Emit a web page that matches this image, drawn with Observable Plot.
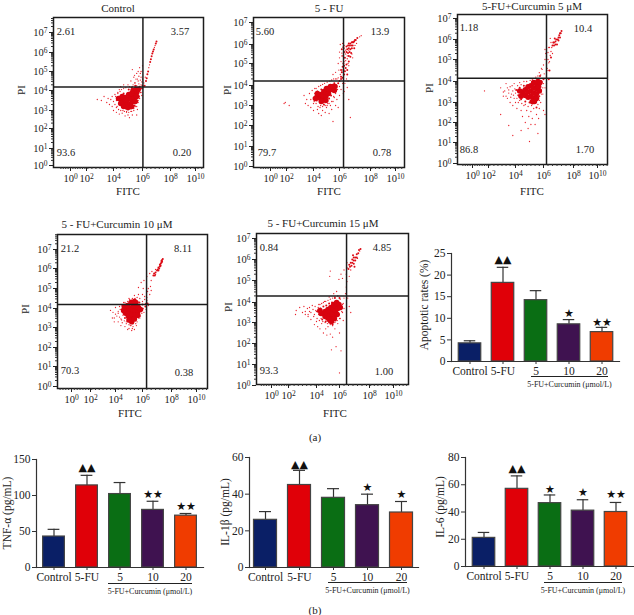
<!DOCTYPE html>
<html><head><meta charset="utf-8">
<script src="https://cdn.jsdelivr.net/npm/d3@7"></script>
<script src="https://cdn.jsdelivr.net/npm/@observablehq/plot@0.6"></script>
<style>
html,body{margin:0;padding:0;background:#fff}
#root{position:relative;width:634px;height:615px;overflow:hidden;font-family:"Liberation Serif",serif;color:#222}
#root svg{position:absolute;overflow:visible;background:none}
#root .t{position:absolute;white-space:nowrap;transform:translate(-50%,-50%);line-height:1.1}
#root .l{position:absolute;background:#222;height:1px}
</style></head><body><div id="root"></div>
<script>
// Flow cytometry events: [log10 FITC, log10 PI]
const controlCore=[[4.55,3.5],[4.75,3.4],[4.95,3.3],[5.15,3.3],[5.3,3.45],[4.8,3.65],[5.0,3.55],[5.2,3.6],[5.4,3.65],[5.05,3.8],[5.25,3.85],[5.45,3.85],[5.6,3.9],[5.35,4.0],[5.55,4.05],[5.7,4.05],[4.35,3.6],[4.5,3.35],[4.7,3.2],[5.0,3.15],[5.25,3.2],[5.5,3.45],[5.6,3.7],[4.6,3.7]];
const controlMid=[[4.3,3.55],[4.4,3.35],[4.5,3.7],[4.6,3.2],[4.7,3.85],[4.85,3.1],[5.0,3.05],[5.05,4.05],[5.2,3.1],[5.25,4.15],[5.45,3.25],[5.5,4.25],[5.6,3.5],[5.75,3.7],[5.8,4.2],[5.9,4.1],[6.0,4.25],[6.55,5.5],[6.6,5.65],[6.65,5.8],[6.7,5.95],[6.75,6.05],[6.8,6.15],[6.95,6.45],[7.0,6.55],[6.15,4.25],[6.25,4.5],[6.3,4.65],[6.35,4.85],[6.4,5.0]];
const controlSparse=[[3.1,3.5],[2.8,3.55],[3.3,3.7],[3.5,3.4],[3.6,3.6],[3.7,3.3],[3.8,3.55],[3.9,3.2],[3.9,3.7],[4.0,3.0],[4.0,3.45],[4.1,3.8],[4.2,2.9],[4.2,3.15],[4.3,3.9],[4.4,2.8],[4.4,4.05],[4.5,4.2],[4.6,2.85],[4.7,4.3],[4.8,2.7],[4.9,2.9],[5.0,4.3],[5.1,2.6],[5.2,2.95],[5.2,4.5],[5.3,4.2],[5.4,3.0],[5.4,4.7],[5.5,3.2],[5.5,4.4],[5.6,2.75],[5.6,4.9],[5.7,3.4],[5.7,4.5],[5.8,3.6],[5.8,5.2],[5.9,3.9],[5.9,4.7],[6.0,4.1],[6.0,5.3],[5.7,5.0],[5.3,5.1],[6.45,5.2],[6.5,5.35],[6.85,6.25],[6.9,6.35],[6.1,4.4],[6.2,4.7],[5.95,4.45],[5.85,4.9],[5.65,4.6],[4.1,3.3],[4.15,3.7],[4.2,3.5],[4.25,3.2],[4.3,3.85],[4.35,3.05],[4.45,3.95],[4.5,3.0],[4.55,4.05],[4.65,3.0],[4.7,4.1],[4.85,4.15],[4.9,2.95],[5.05,2.9],[5.1,4.2],[5.25,2.95],[5.35,4.3],[5.4,3.1],[5.45,4.4],[5.6,3.2],[5.6,4.25],[5.7,3.5],[5.75,4.35],[5.85,3.9],[5.9,4.3],[5.95,3.75],[5.65,3.05],[5.3,2.75],[5.0,2.75],[4.75,2.95],[5.55,4.6],[5.75,4.75],[5.45,4.8],[5.9,5.0],[6.0,4.6],[5.85,4.55]];
const fuCore=[[4.35,3.45],[4.55,3.35],[4.75,3.3],[4.55,3.55],[4.75,3.5],[4.95,3.45],[4.8,3.7],[5.0,3.65],[5.15,3.6],[5.0,3.85],[5.2,3.8],[5.35,3.8],[5.3,3.95],[5.5,3.95],[4.15,3.35],[4.3,3.6],[5.6,3.75],[5.65,3.95],[4.6,3.2],[4.95,3.25]];
const fuMid=[[4.15,3.5],[4.25,3.25],[4.5,3.15],[4.3,3.7],[4.6,3.8],[4.8,3.05],[5.0,3.2],[5.2,3.35],[5.35,3.5],[5.55,3.7],[5.6,4.1],[5.75,4.0],[5.9,4.1],[6.0,4.2],[6.1,4.3],[6.1,4.7],[6.25,5.0],[6.5,4.5],[6.6,5.1],[6.35,5.3],[6.3,5.6],[6.45,5.9],[6.6,6.05],[6.85,6.1],[6.95,6.15],[7.05,6.2],[7.15,6.3],[6.95,5.8],[6.7,5.35],[6.15,5.75],[6.25,5.85],[6.1,4.4],[6.2,4.35],[6.3,4.5],[6.15,4.6],[6.25,4.7],[6.35,4.65],[6.4,4.8],[6.3,4.9],[6.45,4.95],[6.2,4.85],[6.5,4.7],[6.45,5.6],[6.55,5.55],[6.65,5.6],[6.5,5.75],[6.6,5.8],[6.7,5.75],[6.8,5.8],[6.55,5.95],[6.65,5.95],[6.75,5.95],[6.85,5.95],[6.7,6.05],[6.8,6.1],[6.9,6.1],[7.0,6.2],[6.6,5.4],[6.75,5.55]];
const fuSparse=[[1.7,3.1],[1.85,3.15],[2.2,3.0],[3.3,3.5],[3.4,3.1],[3.5,3.3],[3.6,3.0],[3.7,3.6],[3.8,2.9],[3.8,3.3],[3.9,3.75],[4.0,3.1],[4.0,2.75],[4.1,3.85],[4.3,2.8],[4.4,2.6],[4.5,2.9],[4.6,2.5],[4.7,2.75],[4.9,2.65],[5.0,2.9],[5.1,3.1],[5.2,2.6],[5.3,3.0],[5.4,2.8],[5.5,3.2],[5.5,2.2],[5.6,3.4],[5.7,3.0],[5.8,3.3],[5.9,2.9],[6.0,3.5],[6.1,3.8],[6.3,3.7],[6.5,3.9],[6.6,3.3],[6.7,2.4],[5.5,4.5],[5.7,4.6],[5.9,5.0],[6.0,5.3],[6.0,5.6],[6.1,5.1],[6.2,5.4],[6.4,5.5],[6.5,5.25],[6.6,5.7],[6.8,5.5],[5.8,4.3],[7.0,5.95],[7.1,6.05],[7.3,6.35],[7.4,6.4],[6.05,6.0],[6.2,6.05],[4.0,3.4],[4.1,3.6],[4.05,3.2],[4.2,3.1],[4.2,3.85],[4.35,2.95],[4.4,3.95],[4.55,3.0],[4.55,4.0],[4.7,2.95],[4.7,4.05],[4.9,3.0],[4.85,4.1],[5.05,3.0],[5.05,4.15],[5.2,3.1],[5.25,4.2],[5.4,3.2],[5.4,4.25],[5.55,3.45],[5.55,4.3],[5.7,3.6],[5.7,4.3],[5.85,3.8],[5.9,4.35],[6.0,3.95],[6.05,4.5],[5.95,4.7],[6.2,4.1],[6.35,4.1],[6.3,5.1],[6.15,5.4],[6.4,5.15],[6.55,5.0],[6.15,5.55],[6.3,5.8],[6.4,5.7],[6.3,5.95],[6.5,5.4],[6.6,4.9],[6.45,4.3],[6.55,4.2],[6.25,3.6],[6.85,5.3]];
const c5Core=[[4.5,3.5],[4.7,3.35],[4.9,3.25],[4.7,3.6],[4.9,3.5],[5.1,3.3],[5.3,3.2],[5.1,3.55],[5.3,3.45],[5.5,3.4],[4.9,3.75],[5.1,3.8],[5.3,3.7],[5.5,3.65],[5.3,3.95],[5.5,3.9],[5.65,3.75],[5.6,4.0],[4.3,3.55],[4.4,3.3],[5.7,3.55],[5.5,3.2],[5.2,3.05],[5.35,3.05],[5.75,3.95]];
const c5Mid=[[4.05,3.6],[4.2,3.35],[4.3,3.7],[4.4,3.15],[4.6,3.8],[4.7,3.05],[5.0,3.0],[5.2,2.95],[5.4,3.0],[5.5,2.75],[5.7,3.3],[5.8,3.6],[5.85,4.0],[5.75,4.25],[6.0,4.1],[6.6,5.7],[7.1,6.3],[7.2,6.4],[6.9,5.75],[6.75,6.05],[6.4,4.5],[6.5,5.1],[6.35,4.1],[6.7,5.7],[6.8,5.75],[6.7,5.85],[6.8,5.9],[6.85,6.0],[6.95,6.0],[7.0,6.1],[7.05,6.2],[7.1,6.1],[7.15,6.3],[6.65,5.85],[7.0,5.95]];
const c5Sparse=[[1.5,3.55],[2.9,2.4],[2.9,3.7],[3.1,3.3],[3.2,3.55],[3.3,3.9],[3.4,3.2],[3.5,3.6],[3.6,3.0],[3.7,3.4],[3.75,3.8],[3.8,2.85],[3.9,3.2],[3.9,3.9],[4.0,3.0],[4.1,2.7],[4.2,3.0],[4.3,3.95],[4.4,2.6],[4.5,2.3],[4.6,2.85],[4.7,2.0],[4.8,2.6],[4.9,1.7],[4.95,2.3],[5.0,1.05],[5.1,2.55],[5.1,1.9],[5.2,2.2],[5.3,2.7],[5.4,1.9],[5.5,2.4],[5.6,1.45],[5.65,2.2],[5.7,2.7],[5.8,3.0],[5.95,3.4],[6.0,2.6],[6.1,3.7],[6.2,3.9],[6.1,2.4],[3.5,1.85],[3.8,1.35],[4.4,1.6],[5.7,4.4],[5.85,4.6],[6.0,4.75],[6.1,5.0],[6.15,5.3],[6.1,5.5],[6.3,5.0],[6.3,5.35],[6.4,5.6],[6.5,5.4],[6.25,4.6],[6.35,4.85],[6.6,5.3],[6.5,5.85],[6.45,6.05],[3.1,3.5],[3.3,3.3],[3.4,3.7],[3.5,3.45],[3.6,3.75],[3.65,3.25],[3.8,3.55],[3.85,3.35],[3.95,3.65],[4.0,3.45],[4.1,3.2],[4.15,3.8],[4.3,3.1],[4.4,3.85],[4.45,2.95],[4.6,4.0],[4.7,2.9],[4.8,4.0],[4.9,2.8],[5.05,4.05],[5.15,2.85],[5.2,4.1],[5.3,2.95],[5.45,4.2],[5.5,3.05],[5.6,4.25],[5.7,3.1],[5.8,4.3],[5.85,3.4],[5.95,3.7],[6.0,3.9],[5.6,2.9],[6.05,4.35],[6.2,4.2],[6.3,4.5],[6.2,4.8],[6.4,4.9],[6.45,5.2],[6.55,5.6],[6.2,5.15],[6.35,5.6],[5.9,4.55]];
const c10Core=[[4.75,3.75],[4.95,3.6],[5.15,3.5],[4.85,3.9],[5.05,3.8],[5.25,3.7],[5.45,3.65],[5.05,4.0],[5.25,3.95],[5.45,3.9],[5.65,3.85],[5.3,4.15],[5.5,4.1],[5.7,4.05],[5.5,4.3],[4.6,3.9],[4.65,4.1],[4.9,4.15],[5.15,4.3],[5.4,4.35],[5.65,3.65],[5.85,3.95],[5.2,3.3],[5.0,3.4],[5.4,3.45]];
const c10Mid=[[4.5,3.85],[4.6,4.05],[4.7,3.5],[4.8,4.2],[5.0,4.25],[5.0,3.35],[5.2,3.3],[5.2,4.4],[5.45,3.45],[5.4,4.45],[5.7,3.7],[5.75,4.3],[5.9,4.0],[6.0,4.2],[6.2,4.1],[6.35,4.25],[6.75,5.65],[6.85,5.65],[6.8,5.75],[6.9,5.8],[7.0,5.9],[7.05,5.95],[7.1,6.05],[7.15,6.0],[7.2,6.1],[7.2,6.2],[7.25,6.25],[7.3,6.3],[7.3,6.4],[7.35,6.45],[7.1,5.9],[7.25,6.15],[7.35,6.35],[7.4,6.5]];
const c10Sparse=[[3.6,3.9],[3.8,3.8],[3.9,3.5],[4.0,4.05],[4.1,3.6],[4.2,3.3],[4.2,3.85],[4.3,4.1],[4.4,3.45],[4.4,3.1],[4.5,3.25],[4.6,4.3],[4.7,3.05],[4.8,3.3],[4.9,2.9],[5.0,4.5],[5.1,3.1],[5.2,2.85],[5.3,3.05],[5.4,4.65],[5.5,3.2],[5.6,4.55],[5.6,3.3],[5.7,5.05],[5.7,4.7],[5.8,3.5],[5.8,4.5],[5.9,5.3],[5.95,3.75],[6.0,4.7],[6.05,5.0],[6.1,5.4],[6.15,4.45],[6.3,4.55],[6.35,4.85],[6.4,5.0],[6.5,4.7],[6.55,5.1],[6.5,5.75],[6.6,5.4],[6.65,5.85],[6.3,5.6],[6.9,5.7],[6.9,5.95],[6.6,4.9],[4.2,3.75],[4.3,3.55],[4.35,3.95],[4.45,3.4],[4.5,4.15],[4.55,3.65],[4.65,3.35],[4.7,4.3],[4.8,3.2],[4.9,4.35],[5.0,3.15],[5.05,4.45],[5.15,3.1],[5.25,4.5],[5.3,3.2],[5.45,4.5],[5.5,3.35],[5.6,4.35],[5.7,3.5],[5.8,4.3],[5.85,3.6],[6.0,4.35],[5.4,2.9],[5.25,2.95],[5.0,2.95],[5.55,3.1],[6.05,4.0],[6.1,3.8],[6.2,4.25],[6.3,4.4],[6.15,4.6],[6.4,4.15],[6.25,3.95],[3.75,3.5],[3.9,3.3],[4.0,3.7]];
const c15Core=[[4.55,3.45],[4.75,3.3],[4.95,3.25],[4.75,3.55],[4.95,3.45],[5.15,3.35],[5.35,3.2],[5.0,3.65],[5.2,3.55],[5.4,3.45],[5.6,3.4],[5.25,3.75],[5.45,3.7],[5.65,3.6],[5.5,3.9],[5.7,3.8],[5.75,4.0],[4.3,3.6],[4.4,3.45],[5.85,3.7],[5.95,3.9],[6.05,3.75],[5.55,3.2],[5.8,3.4],[5.1,3.15],[5.3,3.05]];
const c15Mid=[[4.1,3.55],[4.3,3.4],[4.35,3.7],[4.5,3.15],[4.6,3.8],[4.8,3.05],[4.85,3.85],[5.1,3.0],[5.1,3.95],[5.4,2.9],[5.35,4.0],[5.65,3.1],[5.6,4.2],[5.85,3.5],[5.9,3.9],[6.0,4.2],[6.6,5.55],[6.7,5.65],[6.75,5.85],[7.05,5.95],[7.15,6.25],[7.0,5.65],[6.9,6.2],[6.8,5.7],[6.85,5.85],[6.95,5.8],[6.85,6.0],[6.95,5.95],[6.95,6.1],[7.05,6.1],[7.15,6.1],[7.25,6.3],[7.3,6.45],[6.65,5.75],[7.4,6.5]];
const c15Sparse=[[2.5,3.4],[2.55,3.6],[2.8,3.75],[3.0,3.5],[3.1,3.8],[3.2,3.4],[3.35,3.7],[3.4,3.3],[3.5,3.55],[3.6,3.15],[3.7,3.85],[3.8,3.3],[3.85,2.9],[3.95,3.6],[4.0,3.05],[4.1,2.8],[4.2,3.9],[4.3,2.7],[4.45,2.95],[4.6,2.5],[4.7,4.05],[4.8,2.7],[4.9,2.4],[5.0,2.8],[5.1,4.25],[5.2,2.45],[5.3,1.7],[5.3,2.95],[5.4,2.3],[5.5,4.4],[5.6,2.7],[5.7,1.85],[5.75,4.5],[5.85,2.95],[6.0,2.5],[6.1,1.65],[6.05,3.2],[6.2,3.5],[6.25,3.95],[6.0,0.6],[5.15,5.2],[5.2,5.45],[5.95,5.05],[6.1,5.3],[6.2,5.1],[6.3,5.5],[6.45,5.3],[6.45,4.7],[6.5,4.95],[6.55,4.2],[6.55,5.6],[6.4,4.4],[6.65,3.8],[6.75,5.5],[6.5,5.85],[7.2,6.05],[7.35,6.4],[6.75,3.5],[6.65,5.2],[3.2,3.55],[3.4,3.4],[3.5,3.75],[3.6,3.5],[3.75,3.65],[3.85,3.4],[3.9,3.8],[4.0,3.55],[4.05,3.2],[4.15,3.75],[4.2,3.4],[4.25,3.1],[4.3,3.9],[4.4,3.2],[4.45,3.95],[4.55,3.05],[4.6,4.0],[4.75,3.0],[4.8,4.05],[4.95,2.95],[5.0,4.1],[5.2,2.9],[5.2,4.15],[5.4,2.85],[5.4,4.2],[5.6,3.0],[5.6,4.25],[5.8,3.1],[5.85,4.3],[6.0,3.2],[6.05,4.15],[6.15,3.55],[6.2,3.9],[6.3,3.7],[6.3,4.2],[6.25,3.1]];

const xTicks=[0,2,4,6,8,10];
const yTicks=[0,1,2,3,4,5,6,7];
const pow=d=>`10^${d}`;

// bar data
const groups=["Control","5-FU","5","10","20"];
const colors=["#0a1f66","#e00008","#0a6e14","#3f1250","#f03c00"];
const apoValues=[4.2,18.2,14.2,8.6,6.8], apoTops=[4.8,21.8,16.4,9.7,7.9];
const apoMarks=[["▲▲",23.6,"5-FU"],["★",11.1,"10"],["★★",9.0,"20"]];
const tnfValues=[43,114,102,80,72], tnfTops=[53,128,118,92,75];
const tnfMarks=[["▲▲",139,"5-FU"],["★★",101,"10"],["★★",85,"20"]];
const ilbValues=[26,45,38,34,30], ilbTops=[30.5,53,43,40,36];
const ilbMarks=[["▲▲",56,"5-FU"],["★",43.6,"10"],["★",39.8,"20"]];
const il6Values=[21,57,46.5,41,40], il6Tops=[25,66.5,52.5,49,47];
const il6Marks=[["▲▲",72,"5-FU"],["★",56.5,"5"],["★",54.3,"10"],["★★",52.8,"20"]];

const root=document.getElementById("root");
function txt(s,x,y,size=11,rot=0){
  const e=document.createElement("div");e.className="t";e.textContent=s;
  e.style.left=x+"px";e.style.top=y+"px";e.style.fontSize=size+"px";
  if(rot)e.style.transform=`translate(-50%,-50%) rotate(${rot}deg)`;
  root.appendChild(e);
}
function place(svg,x,y){svg.style.left=x+"px";svg.style.top=y+"px";root.appendChild(svg);}
function superscripts(svg){
  svg.querySelectorAll("text").forEach(t=>{
    const m=/^10\^(\d+)$/.exec(t.textContent);
    if(!m)return;
    t.textContent="10";
    const s=document.createElementNS("http://www.w3.org/2000/svg","tspan");
    s.textContent=m[1];s.setAttribute("dy","-0.42em");s.setAttribute("font-size","7.5");
    t.appendChild(s);
  });
}

const minorXAll=d3.range(-1.2,11.6,0.3);
const minorYAll=yTicks.flatMap(k=>[.3,.48,.6,.7,.78,.85,.9,.95].map(f=>k+f));

function flow(f){
  const ml=32,mt=5,mr=5,mb=25;
  const ox=f.left-ml,oy=f.top-mt;
  const px=d3.scaleLinear(xTicks,f.xpx), py=d3.scaleLinear(yTicks,f.ypx);
  const minorX=minorXAll.filter(d=>px(d)>=f.left&&px(d)<=f.right);
  const minorY=minorYAll.filter(d=>py(d)>=f.top&&py(d)<=f.bottom);
  const svg=Plot.plot({
    width:f.right-f.left+ml+mr,height:f.bottom-f.top+mt+mb,
    marginLeft:ml,marginTop:mt,marginRight:mr,marginBottom:mb,
    style:{fontFamily:"Liberation Serif",fontSize:"10.5px",color:"#222",background:"none"},
    x:{type:"linear",domain:xTicks,range:f.xpx.map(p=>p-ox)},
    y:{type:"linear",domain:yTicks,range:f.ypx.map(p=>p-oy)},
    marks:[
      Plot.dot(f.sparse,{x:d=>d[0],y:d=>d[1],r:0.65,fill:"#e8202a"}),
      Plot.dot(f.mid,{x:d=>d[0],y:d=>d[1],r:1.0,fill:"#dc0a14"}),
      Plot.dot(f.core,{x:d=>d[0],y:d=>d[1],r:2.8,fill:"#d80410"}),
      Plot.ruleX([f.qx],{stroke:"#1c1c1c",strokeWidth:1.5}),
      Plot.ruleY([f.qy],{stroke:"#1c1c1c",strokeWidth:1.5}),
      Plot.frame({stroke:"#1c1c1c",strokeWidth:1.5}),
      Plot.axisX({ticks:minorX,tickSize:2,tickFormat:()=>"",label:null,stroke:"#333"}),
      Plot.axisY({ticks:minorY,tickSize:2,tickFormat:()=>"",label:null,stroke:"#333"}),
      Plot.axisX({ticks:xTicks,tickSize:4,tickPadding:3,tickFormat:pow,label:null,stroke:"#222"}),
      Plot.axisY({ticks:yTicks,tickSize:4,tickPadding:2,tickFormat:pow,label:null,stroke:"#222"})
    ]
  });
  superscripts(svg);
  place(svg,ox,oy);
  txt(f.title,f.tx,f.ty);
  txt("FITC",f.fx,f.fy);
  txt("PI",f.px,f.py,11,-90);
  f.q.forEach(([s,x,y])=>txt(s,x,y,10.5));
}
function bars(b){
  const ml=32,mt=10,mb=24;
  const ox=b.axisX-ml,oy=b.yTop-mt;
  const w=b.axisEnd-ox, step=(b.c4-b.c0)/4;
  const rows=groups.map((g,i)=>({g,v:b.values[i],t:b.tops[i],c:colors[i]}));
  const insetB=(step-b.bw)/2, insetC=(step-12)/2;
  const svg=Plot.plot({
    width:w,height:b.y0-b.yTop+mt+mb,
    marginLeft:ml,marginTop:mt,marginRight:0,marginBottom:mb,
    style:{fontFamily:"Liberation Serif",fontSize:"11.5px",color:"#222",background:"none"},
    x:{type:"band",domain:groups,range:[b.c0-step/2-ox,b.c4+step/2-ox],padding:0},
    y:{domain:[0,b.max]},
    color:{type:"identity"},
    marks:[
      Plot.ruleX(rows,{x:"g",y1:"v",y2:"t",stroke:"#333",strokeWidth:1.2}),
      Plot.tickY(rows,{x:"g",y:"t",stroke:"#333",strokeWidth:1.2,insetLeft:insetC,insetRight:insetC}),
      Plot.barY(rows,{x:"g",y:"v",fill:"c",stroke:"#444",strokeWidth:1.2,insetLeft:insetB,insetRight:insetB}),
      Plot.text(b.marks,{x:d=>d[2],y:d=>d[1],text:d=>d[0],fontSize:11,fontFamily:"DejaVu Sans",fill:"#111",lineAnchor:"middle"}),
      Plot.frame({anchor:"left",stroke:"#333",strokeWidth:1.2}),
      Plot.frame({anchor:"bottom",stroke:"#333",strokeWidth:1.2}),
      Plot.axisX({tickSize:3,tickPadding:2,label:null,stroke:"#333"}),
      Plot.axisY({ticks:b.ticks,tickSize:4,tickPadding:2,label:null,stroke:"#333"})
    ]
  });
  place(svg,ox,oy);
  txt(b.label,b.lx,b.ly,11.5,-90);
  const l=document.createElement("div");l.className="l";
  l.style.left=b.u0+"px";l.style.width=(b.u1-b.u0)+"px";l.style.top=b.uy+"px";root.appendChild(l);
  txt("5-FU+Curcumin (μmol/L)",(b.u0+b.u1)/2+(b.cdx||0),b.uy+8.5,8);
}

flow({left:53,right:203,top:17,bottom:167,xpx:[70,86,113,142,170,195],ypx:[165,148,128,110,90,71,52,32],qx:6.03,qy:4.18,
  core:controlCore,mid:controlMid,sparse:controlSparse,title:"Control",tx:118,ty:8,fx:128,fy:191,px:21,py:90,
  q:[["2.61",66,32],["3.57",180,32],["93.6",66,153],["0.20",182,153]]});
flow({left:253,right:404,top:17,bottom:167,xpx:[270,286,313,339,370,395],ypx:[166,146,125,105,85,63,44,22],qx:6.26,qy:4.2,
  core:fuCore,mid:fuMid,sparse:fuSparse,title:"5 - FU",tx:329,ty:8,fx:329,fy:191,px:227,py:90,
  q:[["5.60",265,32],["13.9",380,32],["79.7",267,153],["0.78",382,153]]});
flow({left:457,right:607,top:14,bottom:164,xpx:[472,488,515,543,573,597],ypx:[163,142,122,102,81,59,39,18],qx:6.2,qy:4.15,
  core:c5Core,mid:c5Mid,sparse:c5Sparse,title:"5-FU+Curcumin 5 μM",tx:532,ty:6,fx:532,fy:191,px:429,py:88,
  q:[["1.18",469,28],["10.4",583,29],["86.8",469,150],["1.70",585,150]]});
flow({left:57,right:207,top:234,bottom:388,xpx:[71,90,115,142,171,196],ypx:[386,366,347,327,308,288,268,249],qx:6.28,qy:4.2,
  core:c10Core,mid:c10Mid,sparse:c10Sparse,title:"5 - FU+Curcumin 10 μM",tx:117,ty:224,fx:130,fy:413,px:25,py:309,
  q:[["21.2",70,249],["8.11",183,249],["70.3",70,371],["0.38",184,373]]});
flow({left:256,right:408,top:233,bottom:384,xpx:[271,288,316,339,369,393],ypx:[385,364,343,322,302,280,259,238],qx:6.47,qy:4.29,
  core:c15Core,mid:c15Mid,sparse:c15Sparse,title:"5 - FU+Curcumin 15 μM",tx:323,ty:223,fx:335,fy:413,px:228,py:307,
  q:[["0.84",269,248],["4.85",382,248],["93.3",269,371],["1.00",384,372]]});

bars({axisX:451,axisEnd:619,y0:361,yTop:253,c0:468,c4:602,bw:23,max:25,ticks:[0,5,10,15,20,25],values:apoValues,tops:apoTops,marks:apoMarks,
  label:"Apoptotic rates (%)",lx:424,ly:305,u0:531,u1:608,uy:376});
bars({axisX:36,axisEnd:203,y0:567,yTop:459,c0:53,c4:186,bw:22,max:150,ticks:[0,50,100,150],values:tnfValues,tops:tnfTops,marks:tnfMarks,
  label:"TNF-α (pg/mL)",lx:7,ly:513,u0:108,u1:192,uy:583});
bars({axisX:249,axisEnd:418,y0:567,yTop:457,c0:265,c4:401,bw:23,max:60,ticks:[0,20,40,60],values:ilbValues,tops:ilbTops,marks:ilbMarks,
  label:"IL-1β (pg/mL)",lx:225,ly:512,u0:328,u1:407,uy:582});
bars({axisX:465,axisEnd:634,y0:566,yTop:457,c0:482,c4:616,bw:23,max:80,ticks:[0,20,40,60,80],values:il6Values,tops:il6Tops,marks:il6Marks,
  label:"IL-6 (pg/mL)",lx:440,ly:507,u0:544,u1:622,uy:582});

txt("(a)",315,437,11);
txt("(b)",315,610,11);
</script></body></html>
